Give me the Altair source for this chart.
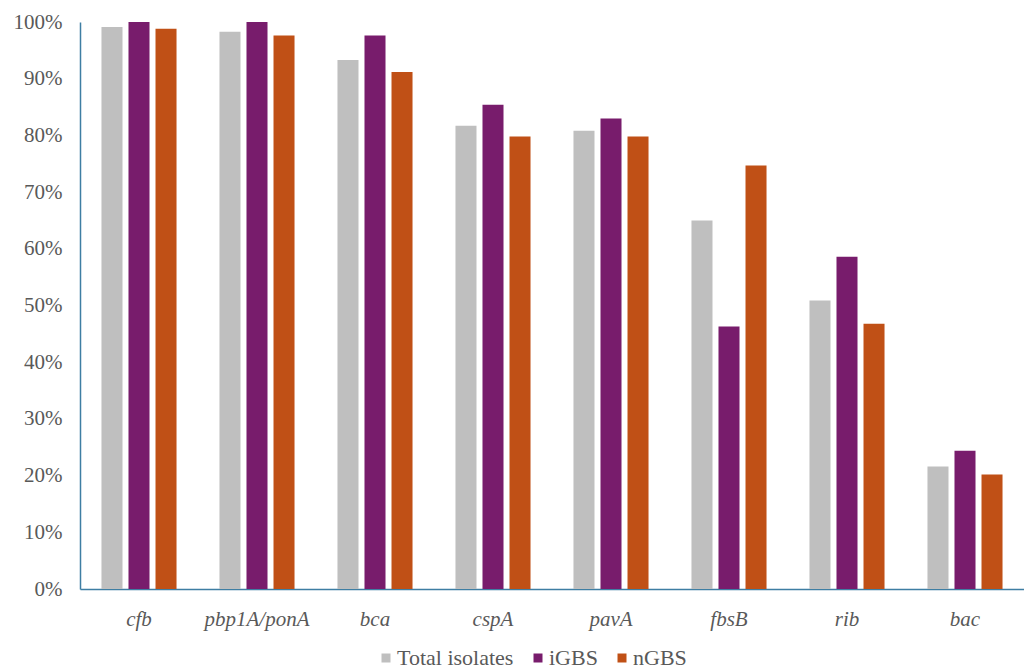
import altair as alt
import pandas as pd

genes = ["cfb", "pbp1A/ponA", "bca", "cspA", "pavA", "fbsB", "rib", "bac"]
series = ["Total isolates", "iGBS", "nGBS"]
total = [99.1, 98.3, 93.3, 81.7, 80.8, 65.0, 50.9, 21.6]
igbs = [100.0, 100.0, 97.6, 85.4, 83.0, 46.3, 58.6, 24.4]
ngbs = [98.8, 97.6, 91.2, 79.8, 79.8, 74.7, 46.8, 20.2]
colors = ["#BFBFBF", "#781C6C", "#C05016"]

rows = []
for name, vals in zip(series, [total, igbs, ngbs]):
    for g, v in zip(genes, vals):
        rows.append({"gene": g, "series": name, "value": v / 100.0})
df = pd.DataFrame(rows)

FONT = "Liberation Serif"
AXIS_COLOR = "#3E7EA3"

chart = alt.Chart(df).mark_bar().encode(
    x=alt.X("gene:N", sort=genes,
            scale=alt.Scale(paddingInner=0.364, paddingOuter=0.182),
            axis=alt.Axis(title=None, labelAngle=0, labelFontStyle="italic",
                          labelFont=FONT, labelFontSize=21, labelColor="#595959",
                          ticks=False, domainColor=AXIS_COLOR, domainWidth=1.5,
                          labelPadding=19)),
    xOffset=alt.XOffset("series:N", sort=series,
                        scale=alt.Scale(paddingInner=0.222, paddingOuter=0)),
    y=alt.Y("value:Q", scale=alt.Scale(domain=[0, 1]),
            axis=alt.Axis(title=None, format=".0%", values=[i / 10 for i in range(11)],
                          labelFont=FONT, labelFontSize=21, labelColor="#595959",
                          ticks=False, grid=False, domainColor=AXIS_COLOR,
                          domainWidth=1.5, labelPadding=18)),
    color=alt.Color("series:N", sort=series,
                    scale=alt.Scale(domain=series, range=colors),
                    legend=alt.Legend(title=None, orient="none", direction="horizontal",
                                      legendX=295, legendY=625,
                                      symbolType="square", symbolSize=81,
                                      symbolStrokeWidth=0,
                                      labelFont=FONT, labelFontSize=22,
                                      labelColor="#595959", columnPadding=13,
                                      labelOffset=0)),
).properties(
    width=944, height=567,
    background="white",
    autosize=alt.AutoSizeParams(type="none"),
    padding={"left": 80, "top": 22, "right": 0, "bottom": 80},
).configure_view(strokeWidth=0, stroke=None)

chart.save("out.html", embed_options={"renderer": "svg", "actions": False})
